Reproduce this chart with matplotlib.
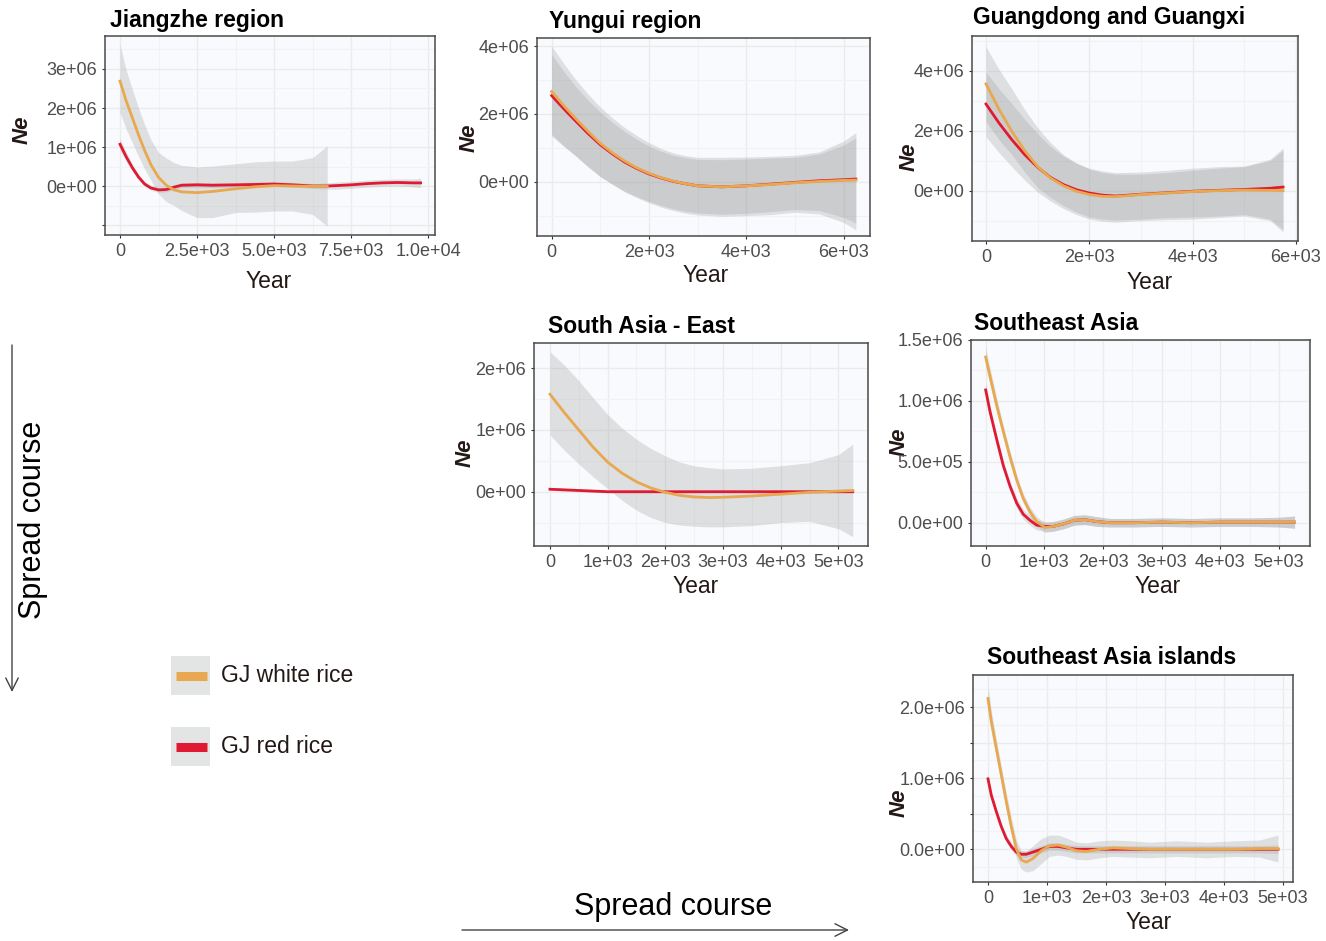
import matplotlib.pyplot as plt
from matplotlib.patches import Rectangle
from matplotlib.ticker import MultipleLocator

# Ne trajectories (smoothed) for GJ white rice and GJ red rice, six regions.
# Ne values are in units of 1e6, years before present on x.

plt.rcParams['font.family'] = ['Liberation Sans', 'DejaVu Sans']

W, H = 1326, 941
WHITE_C = '#E8A84F'
RED_C = '#E01A32'
RIBBON = '#999999'
PANEL_BG = '#F8FAFD'
DARK = '#231815'

##########################################################
####################### Input Data #######################
##########################################################

# --- Jiangzhe region
jz_x_w = [0, 200, 400, 600, 800, 1000, 1250, 1500, 1750, 2000, 2500, 3000, 3750, 4400, 5000, 5600, 6250, 6720]
jz_w = [2.69, 2.18, 1.75, 1.31, 0.91, 0.55, 0.22, 0.02, -0.10, -0.15, -0.17, -0.14, -0.07, -0.02, 0.01, 0.0, -0.01, -0.01]
jz_w_hi = [3.63, 2.97, 2.48, 2.0, 1.57, 1.19, 0.86, 0.72, 0.60, 0.53, 0.49, 0.51, 0.57, 0.62, 0.64, 0.64, 0.73, 1.03]
jz_w_lo = [1.88, 1.46, 1.11, 0.76, 0.43, 0.15, -0.20, -0.40, -0.50, -0.63, -0.81, -0.81, -0.68, -0.67, -0.64, -0.64, -0.73, -1.03]
jz_x_r = [0, 200, 400, 600, 800, 1000, 1250, 1500, 1750, 2000, 2500, 3000, 3750, 4400, 5000, 5600, 6250, 6720,
          7000, 7500, 8000, 8500, 9000, 9500, 9750]
jz_r = [1.07, 0.75, 0.47, 0.23, 0.05, -0.05, -0.10, -0.09, -0.03, 0.02, 0.03, 0.02, 0.03, 0.04, 0.05, 0.03, 0.0, 0.0,
        0.01, 0.03, 0.06, 0.08, 0.09, 0.08, 0.08]
jz_r_hi = [1.22, 0.87, 0.56, 0.30, 0.11, 0.01, -0.04, -0.03, 0.03, 0.08, 0.09, 0.08, 0.09, 0.10, 0.11, 0.09, 0.06, 0.08,
           0.10, 0.12, 0.15, 0.17, 0.18, 0.18, 0.20]
jz_r_lo = [0.92, 0.63, 0.38, 0.16, -0.01, -0.11, -0.16, -0.15, -0.09, -0.04, -0.03, -0.04, -0.03, -0.02, -0.01, -0.03, -0.06, -0.08,
           -0.08, -0.06, -0.03, -0.01, 0.0, -0.02, -0.04]

# --- Yungui region
yg_x = [0, 250, 500, 750, 1000, 1250, 1500, 1750, 2000, 2250, 2500, 2750, 3000,
        3500, 4000, 4500, 5000, 5500, 6000, 6250]
yg_w = [2.66, 2.24, 1.85, 1.48, 1.13, 0.85, 0.61, 0.41, 0.25, 0.12, 0.02, -0.06, -0.12,
        -0.15, -0.12, -0.08, -0.03, 0.01, 0.04, 0.05]
yg_w_hi = [4.0, 3.48, 3.0, 2.58, 2.2, 1.88, 1.6, 1.36, 1.15, 0.98, 0.85, 0.77, 0.72,
           0.72, 0.73, 0.75, 0.78, 0.88, 1.2, 1.45]
yg_w_lo = [1.4, 1.06, 0.75, 0.44, 0.15, -0.08, -0.3, -0.47, -0.62, -0.75, -0.85, -0.93, -0.98,
           -1.02, -1.0, -0.97, -0.9, -0.95, -1.2, -1.42]
yg_r = [2.54, 2.15, 1.78, 1.42, 1.09, 0.82, 0.58, 0.39, 0.23, 0.11, 0.01, -0.06, -0.12,
        -0.15, -0.12, -0.07, -0.02, 0.03, 0.06, 0.08]
yg_r_hi = [3.75, 3.25, 2.8, 2.4, 2.05, 1.75, 1.48, 1.25, 1.05, 0.9, 0.78, 0.71, 0.66,
           0.65, 0.67, 0.70, 0.72, 0.82, 1.08, 1.3]
yg_r_lo = [1.35, 1.04, 0.76, 0.44, 0.15, -0.07, -0.28, -0.44, -0.58, -0.70, -0.80, -0.87, -0.92,
           -0.96, -0.93, -0.88, -0.82, -0.85, -1.05, -1.22]

# --- Guangdong and Guangxi
gd_x = [0, 250, 500, 750, 1000, 1250, 1500, 1750, 2000, 2250, 2500,
        3000, 3500, 4000, 4500, 5000, 5500, 5750]
gd_w = [3.56, 2.72, 1.98, 1.33, 0.80, 0.42, 0.16, -0.02, -0.13, -0.19, -0.20,
        -0.13, -0.08, -0.03, 0.0, 0.02, 0.01, 0.0]
gd_w_hi = [4.8, 4.05, 3.4, 2.7, 2.1, 1.6, 1.2, 0.92, 0.72, 0.61, 0.55,
           0.55, 0.60, 0.68, 0.75, 0.80, 1.0, 1.35]
gd_w_lo = [2.3, 1.7, 1.2, 0.62, 0.1, -0.23, -0.5, -0.72, -0.88, -0.95, -0.98,
           -0.95, -0.90, -0.88, -0.85, -0.80, -0.95, -1.3]
gd_r = [2.89, 2.26, 1.70, 1.20, 0.78, 0.44, 0.20, 0.03, -0.08, -0.15, -0.18,
        -0.12, -0.07, -0.02, 0.01, 0.04, 0.08, 0.12]
gd_r_hi = [3.95, 3.4, 2.9, 2.38, 1.9, 1.47, 1.15, 0.92, 0.75, 0.66, 0.60,
           0.62, 0.68, 0.75, 0.80, 0.82, 1.05, 1.42]
gd_r_lo = [1.8, 1.27, 0.8, 0.35, -0.05, -0.35, -0.6, -0.8, -0.95, -1.02, -1.05,
           -1.0, -0.97, -0.95, -0.90, -0.85, -1.0, -1.38]

# --- South Asia - East
sa_x = [0, 250, 500, 750, 1000, 1250, 1500, 1750, 2000, 2250, 2500, 2750, 3000,
        3500, 4000, 4500, 5000, 5250]
sa_w = [1.58, 1.28, 1.00, 0.72, 0.48, 0.30, 0.16, 0.06, -0.01, -0.06, -0.085, -0.095, -0.09,
        -0.07, -0.04, -0.01, 0.01, 0.02]
sa_w_hi = [2.27, 2.05, 1.8, 1.52, 1.25, 1.03, 0.85, 0.70, 0.58, 0.48, 0.42, 0.39, 0.37,
           0.38, 0.42, 0.47, 0.60, 0.77]
sa_w_lo = [0.92, 0.67, 0.45, 0.24, 0.05, -0.14, -0.30, -0.42, -0.50, -0.54, -0.56, -0.57, -0.57,
           -0.55, -0.50, -0.48, -0.60, -0.73]
sa_r = [0.04, 0.03, 0.02, 0.01, 0.0, 0.0, 0.0, 0.0, 0.0, 0.0, 0.0, 0.0, 0.0,
        0.0, 0.0, 0.0, 0.0, 0.0]
sa_r_hi = [0.06, 0.05, 0.04, 0.03, 0.02, 0.02, 0.02, 0.02, 0.02, 0.02, 0.02, 0.02, 0.02,
           0.02, 0.02, 0.02, 0.02, 0.02]
sa_r_lo = [0.02, 0.01, 0.0, -0.01, -0.02, -0.02, -0.02, -0.02, -0.02, -0.02, -0.02, -0.02, -0.02,
           -0.02, -0.02, -0.02, -0.02, -0.02]

# --- Southeast Asia
se_x = [0, 75, 190, 300, 415, 530, 640, 755, 870, 1010, 1150, 1325, 1510, 1690, 1890, 2120, 2520, 3000,
        3500, 4000, 4500, 5000, 5265]
se_w = [1.36, 1.20, 0.96, 0.75, 0.54, 0.35, 0.20, 0.09, 0.01, -0.04, -0.03, -0.01, 0.02, 0.025, 0.01, 0.0, 0.0, 0.005,
        0.0, 0.005, 0.005, 0.005, 0.005]
se_w_hi = [1.44, 1.27, 1.02, 0.80, 0.59, 0.39, 0.24, 0.13, 0.05, 0.0, 0.01, 0.03, 0.06, 0.065, 0.05, 0.035, 0.035, 0.04,
           0.035, 0.04, 0.04, 0.045, 0.055]
se_w_lo = [1.28, 1.13, 0.90, 0.70, 0.49, 0.31, 0.16, 0.05, -0.03, -0.08, -0.07, -0.05, -0.02, -0.015, -0.03, -0.035, -0.035, -0.03,
           -0.035, -0.03, -0.03, -0.035, -0.045]
se_r = [1.09, 0.91, 0.68, 0.47, 0.30, 0.16, 0.07, 0.02, -0.02, -0.03, -0.03, -0.01, 0.02, 0.025, 0.01, 0.0, 0.0, 0.005,
        0.0, 0.005, 0.005, 0.005, 0.005]
se_r_hi = [1.15, 0.96, 0.72, 0.51, 0.34, 0.20, 0.11, 0.06, 0.02, 0.01, 0.01, 0.03, 0.06, 0.065, 0.05, 0.035, 0.035, 0.04,
           0.035, 0.04, 0.04, 0.045, 0.055]
se_r_lo = [1.03, 0.86, 0.64, 0.43, 0.26, 0.12, 0.03, -0.02, -0.06, -0.07, -0.07, -0.05, -0.02, -0.015, -0.03, -0.035, -0.035, -0.03,
           -0.035, -0.03, -0.03, -0.035, -0.045]

# --- Southeast Asia islands
si_x = [0, 56, 141, 225, 310, 395, 480, 564, 649, 762, 903, 1045, 1186, 1327, 1497, 1666, 1892, 2118,
        2400, 2740, 3200, 3700, 4200, 4600, 4915]
si_w = [2.12, 1.80, 1.42, 1.05, 0.67, 0.32, 0.01, -0.15, -0.18, -0.13, -0.02, 0.05, 0.06, 0.03, -0.02, -0.03, 0.0, 0.02,
        0.01, 0.0, 0.0, 0.0, 0.0, 0.01, 0.01]
si_w_hi = [2.3, 1.95, 1.55, 1.17, 0.80, 0.45, 0.13, -0.02, -0.03, 0.05, 0.15, 0.20, 0.20, 0.16, 0.10, 0.09, 0.12, 0.13,
           0.12, 0.10, 0.12, 0.10, 0.12, 0.13, 0.20]
si_w_lo = [1.95, 1.65, 1.29, 0.93, 0.55, 0.20, -0.12, -0.28, -0.32, -0.30, -0.20, -0.10, -0.08, -0.10, -0.14, -0.15, -0.12, -0.10,
           -0.11, -0.12, -0.10, -0.12, -0.10, -0.11, -0.18]
si_r = [0.99, 0.76, 0.53, 0.32, 0.15, 0.04, -0.04, -0.07, -0.07, -0.04, 0.0, 0.04, 0.04, 0.02, 0.0, 0.0, 0.0, 0.0,
        0.0, 0.0, 0.0, 0.0, 0.0, 0.0, 0.0]
si_r_hi = [1.05, 0.81, 0.58, 0.37, 0.20, 0.09, 0.01, -0.02, -0.02, 0.01, 0.05, 0.09, 0.09, 0.07, 0.05, 0.05, 0.05, 0.05,
           0.05, 0.05, 0.05, 0.05, 0.05, 0.05, 0.06]
si_r_lo = [0.93, 0.71, 0.48, 0.27, 0.10, -0.01, -0.09, -0.12, -0.12, -0.09, -0.05, -0.01, -0.01, -0.03, -0.05, -0.05, -0.05, -0.05,
           -0.05, -0.05, -0.05, -0.05, -0.05, -0.05, -0.06]

titles = ['Jiangzhe region', 'Yungui region', 'Guangdong and Guangxi',
          'South Asia - East', 'Southeast Asia', 'Southeast Asia islands']
legend_labels = ['GJ white rice', 'GJ red rice']

##########################################################
######################## Layout ##########################
##########################################################

# panel boxes in pixels: left, top, right, bottom
boxes = [(105, 36, 435, 235), (537, 38, 870, 236), (972, 36, 1298, 241),
         (534, 343, 868, 546), (971, 340, 1310, 546), (973, 675, 1293, 882)]
xlims = [(-487, 10217), (-302, 6541), (-271, 6039), (-277, 5514), (-250, 5528), (-254, 5169)]
ylims = [(-1.256, 3.846), (-1.60, 4.24), (-1.68, 5.16), (-0.88, 2.41), (-0.191, 1.498), (-0.46, 2.45)]

xticks = [[0, 2500, 5000, 7500, 10000], [0, 2000, 4000, 6000], [0, 2000, 4000, 6000],
          [0, 1000, 2000, 3000, 4000, 5000], [0, 1000, 2000, 3000, 4000, 5000], [0, 1000, 2000, 3000, 4000, 5000]]
xticklabels = [['0', '2.5e+03', '5.0e+03', '7.5e+03', '1.0e+04'], ['0', '2e+03', '4e+03', '6e+03'],
               ['0', '2e+03', '4e+03', '6e+03'], ['0', '1e+03', '2e+03', '3e+03', '4e+03', '5e+03'],
               ['0', '1e+03', '2e+03', '3e+03', '4e+03', '5e+03'], ['0', '1e+03', '2e+03', '3e+03', '4e+03', '5e+03']]
x_minor = [1250, 1000, 1000, 500, 500, 500]
yticks = [[-1, 0, 1, 2, 3], [0, 2, 4], [0, 2, 4], [0, 1, 2], [0, 0.5, 1.0, 1.5], [0, 0.5, 1.0, 1.5, 2.0]]
yticklabels = [['', '0e+00', '1e+06', '2e+06', '3e+06'], ['0e+00', '2e+06', '4e+06'], ['0e+00', '2e+06', '4e+06'],
               ['0e+00', '1e+06', '2e+06'], ['0.0e+00', '5.0e+05', '1.0e+06', '1.5e+06'],
               ['0.0e+00', '', '1.0e+06', '', '2.0e+06']]
y_minor = [0.5, 1.0, 1.0, 0.5, 0.25, 0.25]

title_pos = [(110, 27), (549, 28), (973, 24), (548, 333), (974, 330), (987, 664)]
year_pos = [(269, 288), (706, 282), (1150, 289), (696, 593), (1158, 593), (1149, 929)]
ne_pos = [(22, 130), (469, 138), (909, 157), (465, 453), (899, 442), (899, 803)]

series = [
    (jz_x_w, jz_w, jz_w_lo, jz_w_hi, jz_x_r, jz_r, jz_r_lo, jz_r_hi),
    (yg_x, yg_w, yg_w_lo, yg_w_hi, yg_x, yg_r, yg_r_lo, yg_r_hi),
    (gd_x, gd_w, gd_w_lo, gd_w_hi, gd_x, gd_r, gd_r_lo, gd_r_hi),
    (sa_x, sa_w, sa_w_lo, sa_w_hi, sa_x, sa_r, sa_r_lo, sa_r_hi),
    (se_x, se_w, se_w_lo, se_w_hi, se_x, se_r, se_r_lo, se_r_hi),
    (si_x, si_w, si_w_lo, si_w_hi, si_x, si_r, si_r_lo, si_r_hi),
]

##########################################################
####################### Plotting #########################
##########################################################

fig = plt.figure(figsize=(W / 100, H / 100), dpi=100)

# overlay in pixel coordinates for the free-standing annotations
ov = fig.add_axes([0, 0, 1, 1])
ov.set_xlim(0, W)
ov.set_ylim(H, 0)
ov.set_axis_off()

for i, (l, t, r, b) in enumerate(boxes):
    ax = fig.add_axes([l / W, 1 - b / H, (r - l) / W, (b - t) / H])
    ax.set_facecolor(PANEL_BG)
    xw, w, wlo, whi, xr, rr, rlo, rhi = series[i]

    ax.fill_between(xw, wlo, whi, color=RIBBON, alpha=0.27, lw=0)
    ax.fill_between(xr, rlo, rhi, color=RIBBON, alpha=0.27, lw=0)
    ax.plot(xr, rr, color=RED_C, lw=2.0, solid_joinstyle='round')
    ax.plot(xw, w, color=WHITE_C, lw=2.0, solid_joinstyle='round')

    ax.set_xlim(xlims[i])
    ax.set_ylim(ylims[i])
    ax.set_xticks(xticks[i], xticklabels[i])
    ax.set_yticks(yticks[i], yticklabels[i])
    ax.xaxis.set_minor_locator(MultipleLocator(x_minor[i]))
    ax.yaxis.set_minor_locator(MultipleLocator(y_minor[i]))
    ax.grid(which='major', color='#EBEBEB', lw=1.0)
    ax.grid(which='minor', color='#F1F2F3', lw=0.8)
    ax.set_axisbelow(True)
    ax.tick_params(which='minor', length=0)
    ax.tick_params(which='major', length=2.5, width=0.8, color='#333333',
                   labelcolor='#4D4D4D', labelsize=13, pad=3)
    for s in ax.spines.values():
        s.set_color('#4A4A4A')
        s.set_linewidth(1.1)

    ov.text(*title_pos[i], titles[i], fontsize=16.5, fontweight='bold', color='black',
            ha='left', va='baseline')
    ov.text(*year_pos[i], 'Year', fontsize=16.5, color=DARK, ha='center', va='baseline')
    ov.text(*ne_pos[i], 'Ne', fontsize=16, fontweight='bold', fontstyle='italic', color=DARK,
            rotation=90, ha='center', va='center')

# spread course arrows
arrow = dict(arrowstyle='->,head_length=0.6,head_width=0.3', color='#444444', lw=1.0,
             mutation_scale=15, shrinkA=0, shrinkB=0)
ov.annotate('', xy=(12, 692), xytext=(12, 345), arrowprops=arrow)
ov.annotate('', xy=(849, 930), xytext=(462, 930), arrowprops=arrow)
ov.text(33, 520, 'Spread course', fontsize=22, rotation=90, ha='center', va='center', color='black')
ov.text(673, 915, 'Spread course', fontsize=22, ha='center', va='baseline', color='black')

# legend
for label, color, ytop in zip(legend_labels, [WHITE_C, RED_C], [656, 727]):
    ov.add_patch(Rectangle((171, ytop), 39, 39, color='#E3E4E4', lw=0))
    ov.plot([176, 207], [ytop + 19.5, ytop + 19.5], color=color, lw=6.5, solid_capstyle='butt')
    ov.text(221, ytop + 26, label, fontsize=16.5, color=DARK, ha='left', va='baseline')

fig.savefig('out.png', dpi=100)
